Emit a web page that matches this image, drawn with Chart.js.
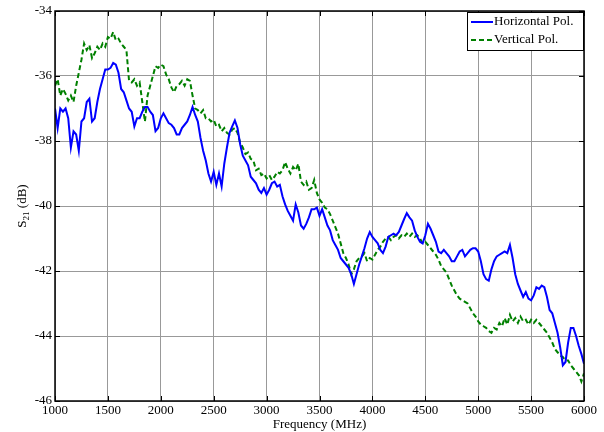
<!DOCTYPE html>
<html>
<head>
<meta charset="utf-8">
<script src="https://cdn.jsdelivr.net/npm/chart.js@4.4.1/dist/chart.umd.min.js"></script>
<style>
  html, body { margin: 0; padding: 0; background: #fff; }
  #wrap { width: 604px; height: 432px; }
</style>
</head>
<body>
<div id="wrap"><canvas id="c" width="604" height="432"></canvas></div>
<script>
// Measured S21 transmission, 1000–6000 MHz in 25 MHz steps
const freqMHz = [
  1000,1025,1050,1075,1100,1125,1150,1175,1200,1225,1250,1275,1300,1325,1350,1375,1400,1425,1450,1475,
  1500,1525,1550,1575,1600,1625,1650,1675,1700,1725,1750,1775,1800,1825,1850,1875,1900,1925,1950,1975,
  2000,2025,2050,2075,2100,2125,2150,2175,2200,2225,2250,2275,2300,2325,2350,2375,2400,2425,2450,2475,
  2500,2525,2550,2575,2600,2625,2650,2675,2700,2725,2750,2775,2800,2825,2850,2875,2900,2925,2950,2975,
  3000,3025,3050,3075,3100,3125,3150,3175,3200,3225,3250,3275,3300,3325,3350,3375,3400,3425,3450,3475,
  3500,3525,3550,3575,3600,3625,3650,3675,3700,3725,3750,3775,3800,3825,3850,3875,3900,3925,3950,3975,
  4000,4025,4050,4075,4100,4125,4150,4175,4200,4225,4250,4275,4300,4325,4350,4375,4400,4425,4450,4475,
  4500,4525,4550,4575,4600,4625,4650,4675,4700,4725,4750,4775,4800,4825,4850,4875,4900,4925,4950,4975,
  5000,5025,5050,5075,5100,5125,5150,5175,5200,5225,5250,5275,5300,5325,5350,5375,5400,5425,5450,5475,
  5500,5525,5550,5575,5600,5625,5650,5675,5700,5725,5750,5775,5800,5825,5850,5875,5900,5925,5950,5975,
  6000
];

const horizontalPol = [
  -37.0,-37.6,-37.0,-37.1,-37.0,-37.3,-38.2,-37.7,-37.8,-38.3,-37.4,-37.3,-36.8,-36.7,-37.4,-37.3,-36.8,-36.4,-36.1,-35.8,
  -35.8,-35.75,-35.6,-35.65,-35.9,-36.4,-36.5,-36.75,-37.0,-37.1,-37.55,-37.3,-37.3,-37.1,-36.95,-36.95,-37.1,-37.2,-37.7,-37.6,
  -37.3,-37.15,-37.3,-37.45,-37.5,-37.6,-37.8,-37.8,-37.6,-37.5,-37.4,-37.2,-36.95,-37.2,-37.4,-37.9,-38.3,-38.6,-39.0,-39.25,
  -38.95,-39.35,-39.0,-39.4,-38.7,-38.2,-37.75,-37.55,-37.37,-37.6,-38.1,-38.45,-38.6,-38.75,-39.1,-39.2,-39.3,-39.5,-39.6,-39.45,
  -39.65,-39.5,-39.3,-39.25,-39.4,-39.35,-39.7,-39.95,-40.15,-40.3,-40.45,-39.95,-40.2,-40.6,-40.7,-40.55,-40.35,-40.1,-40.1,-40.05,
  -40.3,-40.1,-40.35,-40.6,-40.75,-41.05,-41.2,-41.35,-41.6,-41.7,-41.8,-41.9,-42.1,-42.4,-42.1,-41.8,-41.55,-41.3,-41.0,-40.8,
  -40.95,-41.05,-41.15,-41.35,-41.45,-41.25,-40.95,-40.9,-40.85,-40.9,-40.8,-40.6,-40.4,-40.22,-40.35,-40.45,-40.75,-40.95,-41.1,-41.15,
  -40.9,-40.55,-40.7,-40.9,-41.1,-41.4,-41.45,-41.35,-41.45,-41.55,-41.7,-41.7,-41.55,-41.4,-41.35,-41.55,-41.45,-41.35,-41.3,-41.3,
  -41.4,-41.7,-42.1,-42.25,-42.3,-41.95,-41.7,-41.55,-41.5,-41.45,-41.4,-41.45,-41.2,-41.6,-42.1,-42.4,-42.6,-42.8,-42.65,-42.85,
  -42.9,-42.75,-42.5,-42.55,-42.45,-42.5,-42.8,-43.2,-43.3,-43.6,-43.9,-44.35,-44.9,-44.8,-44.2,-43.75,-43.75,-44.0,-44.3,-44.55,
  -44.85
];

const verticalPol = [
  -36.3,-36.1,-36.6,-36.4,-36.55,-36.75,-36.6,-36.8,-36.3,-35.9,-35.5,-35.0,-35.2,-35.05,-35.45,-35.3,-35.1,-35.2,-35.0,-35.1,
  -34.8,-34.85,-34.65,-34.9,-34.85,-35.0,-35.1,-35.2,-36.15,-36.2,-36.1,-36.3,-36.2,-36.8,-37.4,-36.6,-36.3,-36.0,-35.7,-35.75,
  -35.65,-35.7,-35.95,-36.1,-36.35,-36.5,-36.3,-36.25,-36.15,-36.3,-36.1,-36.15,-36.6,-37.0,-37.05,-37.15,-37.05,-37.3,-37.3,-37.4,
  -37.35,-37.55,-37.5,-37.7,-37.6,-37.75,-37.8,-37.65,-37.6,-37.75,-38.05,-38.2,-38.4,-38.35,-38.55,-38.6,-38.9,-38.85,-39.05,-39.0,
  -39.15,-39.05,-39.2,-39.1,-38.95,-39.0,-38.9,-38.65,-38.85,-39.0,-38.8,-38.9,-38.7,-39.25,-39.35,-39.25,-39.5,-39.45,-39.2,-39.6,
  -39.8,-39.9,-40.05,-40.1,-40.25,-40.45,-40.65,-40.85,-41.15,-41.45,-41.6,-41.8,-42.1,-41.95,-41.7,-41.6,-41.55,-41.45,-41.7,-41.6,
  -41.65,-41.5,-41.35,-41.25,-41.1,-41.0,-40.95,-41.05,-40.95,-40.9,-41.0,-40.9,-40.95,-40.85,-40.95,-40.85,-40.95,-40.9,-41.0,-41.15,
  -41.1,-41.2,-41.3,-41.4,-41.5,-41.65,-41.85,-41.95,-42.05,-42.25,-42.45,-42.6,-42.75,-42.85,-42.9,-42.95,-43.0,-43.15,-43.3,-43.4,
  -43.55,-43.65,-43.7,-43.75,-43.85,-43.9,-43.75,-43.8,-43.6,-43.7,-43.45,-43.65,-43.35,-43.55,-43.45,-43.6,-43.4,-43.55,-43.5,-43.65,
  -43.5,-43.6,-43.5,-43.6,-43.7,-43.8,-43.9,-44.05,-44.2,-44.4,-44.5,-44.6,-44.65,-44.75,-44.75,-44.9,-45.0,-45.1,-45.2,-45.4,
  -45.15
];

const xTicks = [1000, 1500, 2000, 2500, 3000, 3500, 4000, 4500, 5000, 5500, 6000];
const yTicks = [-46, -44, -42, -40, -38, -36, -34];
const seriesNames = ['Horizontal Pol.', 'Vertical Pol.'];

const SERIF = '"Liberation Serif", "Times New Roman", serif';

function toPoints(values) {
  return values.map((v, i) => ({ x: freqMHz[i], y: v }));
}

// Frame box, inward tick marks, y-axis title with subscript, and legend box
const framePlugin = {
  id: 'frame',
  afterDatasetsDraw(chart) {
    const { ctx, chartArea: a, scales } = chart;
    ctx.save();
    ctx.strokeStyle = '#000';
    ctx.lineWidth = 1;
    // inward ticks
    ctx.beginPath();
    xTicks.forEach(t => {
      const px = Math.round(scales.x.getPixelForValue(t)) + 0.5;
      ctx.moveTo(px, a.bottom); ctx.lineTo(px, a.bottom - 5);
      ctx.moveTo(px, a.top); ctx.lineTo(px, a.top + 5);
    });
    yTicks.forEach(t => {
      const py = Math.round(scales.y.getPixelForValue(t)) + 0.5;
      ctx.moveTo(a.left, py); ctx.lineTo(a.left + 5, py);
      ctx.moveTo(a.right, py); ctx.lineTo(a.right - 5, py);
    });
    ctx.stroke();
    ctx.lineWidth = 1.5;
    ctx.strokeRect(a.left, a.top, a.right - a.left, a.bottom - a.top);

    // legend
    const lx = 467, ly = 12, lw = 116, lh = 38;
    ctx.fillStyle = '#fff';
    ctx.fillRect(lx, ly, lw, lh);
    ctx.lineWidth = 1;
    ctx.strokeStyle = '#000';
    ctx.strokeRect(lx + 0.5, ly + 0.5, lw, lh);
    const ds = chart.data.datasets;
    ctx.font = '13px ' + SERIF;
    ctx.textBaseline = 'middle';
    ds.forEach((d, i) => {
      const y = ly + 10 + i * 18;
      ctx.strokeStyle = d.borderColor;
      ctx.lineWidth = 2;
      ctx.setLineDash(d.borderDash || []);
      ctx.beginPath();
      ctx.moveTo(lx + 4, y); ctx.lineTo(lx + 26, y);
      ctx.stroke();
      ctx.setLineDash([]);
      ctx.fillStyle = '#000';
      ctx.textAlign = 'left';
      ctx.fillText(d.label, lx + 27, y);
    });

    // y-axis title: S21 (dB) with subscript
    ctx.translate(22, (a.top + a.bottom) / 2);
    ctx.rotate(-Math.PI / 2);
    ctx.fillStyle = '#000';
    ctx.textBaseline = 'alphabetic';
    ctx.font = '13px ' + SERIF;
    const sW = ctx.measureText('S').width;
    ctx.font = '9px ' + SERIF;
    const subW = ctx.measureText('21').width;
    ctx.font = '13px ' + SERIF;
    const restW = ctx.measureText(' (dB)').width;
    let x0 = -(sW + subW + restW) / 2;
    ctx.textAlign = 'left';
    ctx.fillText('S', x0, 4);
    ctx.font = '9px ' + SERIF;
    ctx.fillText('21', x0 + sW, 7);
    ctx.font = '13px ' + SERIF;
    ctx.fillText(' (dB)', x0 + sW + subW, 4);
    ctx.restore();
  }
};

new Chart(document.getElementById('c'), {
  type: 'line',
  data: {
    datasets: [
      {
        label: seriesNames[0],
        data: toPoints(horizontalPol),
        borderColor: '#0000ff',
        borderWidth: 2,
        pointRadius: 0,
        tension: 0,
        fill: false
      },
      {
        label: seriesNames[1],
        data: toPoints(verticalPol),
        borderColor: '#008000',
        borderWidth: 2,
        borderDash: [5, 3],
        pointRadius: 0,
        tension: 0,
        fill: false
      }
    ]
  },
  options: {
    responsive: false,
    animation: false,
    devicePixelRatio: 1,
    layout: { padding: { top: 11, right: 20, left: 0, bottom: 0 } },
    plugins: { legend: { display: false }, tooltip: { enabled: false } },
    scales: {
      x: {
        type: 'linear',
        min: 1000, max: 6000,
        afterBuildTicks(scale) { scale.ticks = xTicks.map(v => ({ value: v })); },
        afterFit(scale) { scale.height = 31; },
        grid: { color: '#999', lineWidth: 1, drawTicks: false },
        border: { display: false },
        ticks: {
          color: '#000', padding: 2,
          font: { family: SERIF, size: 13 },
          maxRotation: 0,
          callback: v => String(v)
        },
        title: {
          display: true, text: 'Frequency (MHz)', color: '#000',
          font: { family: SERIF, size: 13 }, padding: { top: -3, bottom: 0 }
        }
      },
      y: {
        type: 'linear',
        min: -46, max: -34,
        afterBuildTicks(scale) { scale.ticks = yTicks.map(v => ({ value: v })); },
        afterFit(scale) { scale.width = 55; },
        grid: { color: '#999', lineWidth: 1, drawTicks: false },
        border: { display: false },
        ticks: {
          color: '#000', padding: 3,
          font: { family: SERIF, size: 13 },
          callback: v => String(v)
        }
      }
    }
  },
  plugins: [framePlugin]
});
</script>
</body>
</html>
